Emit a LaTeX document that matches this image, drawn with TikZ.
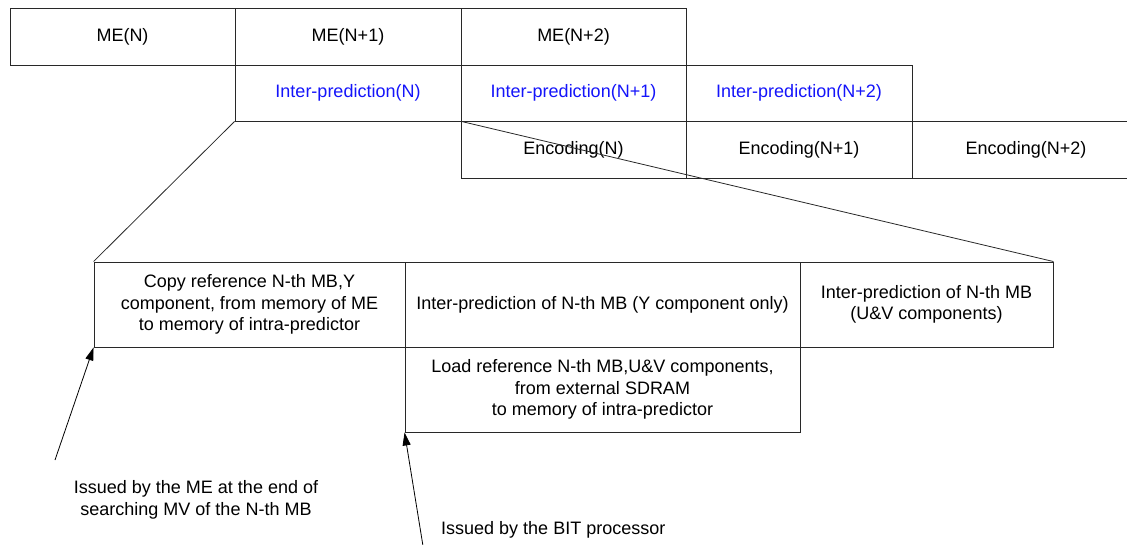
\documentclass[tikz,border=0pt]{standalone}
\usepackage{fontspec}
\setmainfont{Liberation Sans}
\usetikzlibrary{arrows.meta}
\definecolor{ipblue}{RGB}{20,20,250}
\definecolor{linegray}{RGB}{40,40,40}
\tikzset{
  cell/.style={draw=linegray, line width=0.9pt, inner sep=0pt, align=center,
    font=\fontsize{18}{21.5}\selectfont},
  bluecell/.style={cell, text=ipblue},
  link/.style={draw=linegray, line width=0.8pt},
  arr/.style={draw=black, line width=0.8pt, -{Triangle[length=13pt,width=8pt]}},
  note/.style={inner sep=0pt, align=center, font=\fontsize{18}{21.5}\selectfont}
}
\begin{document}
\begin{tikzpicture}[x=1pt,y=-1pt]
\useasboundingbox (0,0) rectangle (1127,545);
\clip (0,0) rectangle (1127,545);
% top row
\node[cell, minimum width=225pt, minimum height=57pt] (me0) at (122.5,36.5) {ME(N)};
\node[cell, minimum width=226pt, minimum height=57pt] (me1) at (348,36.5) {ME(N+1)};
\node[cell, minimum width=225pt, minimum height=57pt] (me2) at (573.5,36.5) {ME(N+2)};
% second row
\node[bluecell, minimum width=226pt, minimum height=56pt] (ip0) at (348,93) {Inter-prediction(N)};
\node[bluecell, minimum width=225pt, minimum height=56pt] (ip1) at (573.5,93) {Inter-prediction(N+1)};
\node[bluecell, minimum width=226pt, minimum height=56pt] (ip2) at (799,93) {Inter-prediction(N+2)};
% third row
\node[cell, minimum width=225pt, minimum height=57pt] (en0) at (573.5,149.5) {Encoding(N)};
\node[cell, minimum width=226pt, minimum height=57pt] (en1) at (799,149.5) {Encoding(N+1)};
\node[cell, minimum width=228pt, minimum height=57pt] (en2) at (1026,149.5) {Encoding(N+2)};
% detail row
\node[cell, minimum width=311pt, minimum height=85pt] (copy) at (249.5,304.5)
  {Copy reference N-th MB,Y\\component, from memory of ME\\to memory of intra-predictor};
\node[cell, minimum width=395pt, minimum height=85pt] (ipy) at (602.5,304.5)
  {Inter-prediction of N-th MB (Y component only)};
\node[cell, minimum width=253pt, minimum height=85pt] (ipuv) at (926.5,304.5)
  {Inter-prediction of N-th MB\\(U\&V components)};
\node[cell, minimum width=395pt, minimum height=85pt] (load) at (602.5,389.5)
  {Load reference N-th MB,U\&V components,\\from external SDRAM\\to memory of intra-predictor};
% zoom lines
\draw[link] (ip0.south west) -- (copy.north west);
\draw[link] (ip0.south east) -- (ipuv.north east);
% notes
\node[note] (note1) at (196,500) {Issued by the ME at the end of\\searching MV of the N-th MB};
\node[note, anchor=west] (note2) at (441,530) {Issued by the BIT processor};
\coordinate (t1) at (55,460);
\coordinate (t2) at (423,546);
\draw[arr] (t1) -- (copy.south west);
\draw[arr] (t2) -- (load.south west);
\end{tikzpicture}
\end{document}
